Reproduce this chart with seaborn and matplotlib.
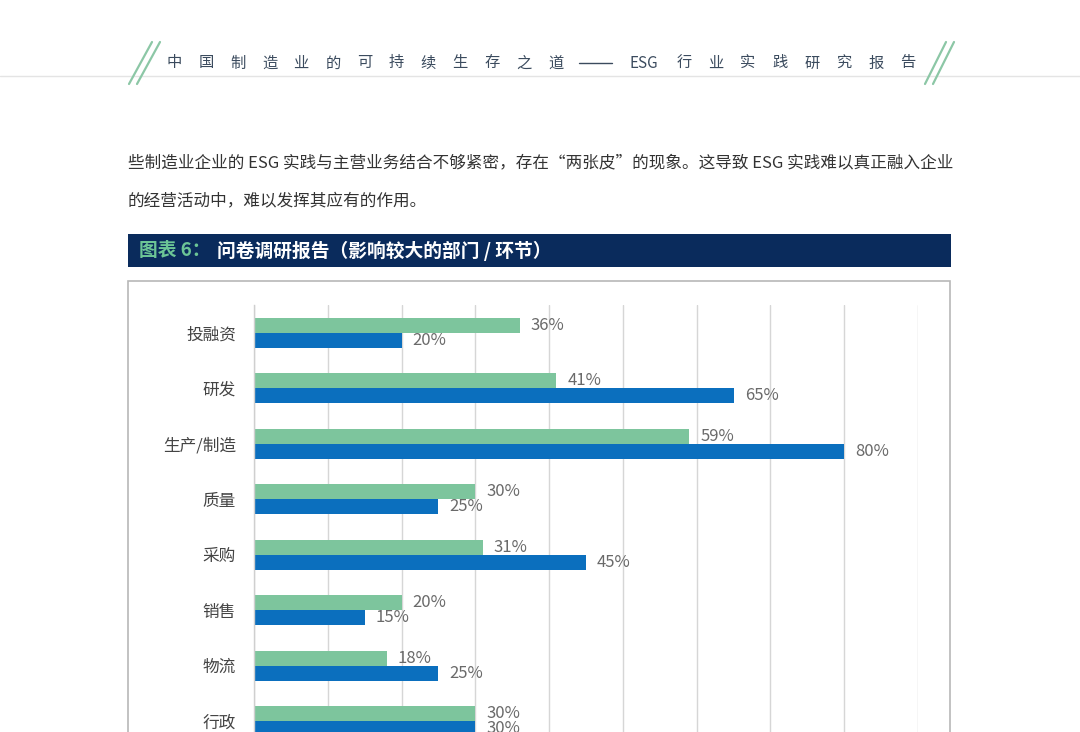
import matplotlib
matplotlib.use("Agg")
import matplotlib.pyplot as plt
from matplotlib.patches import Rectangle
from matplotlib.lines import Line2D
import seaborn as sns
import pandas as pd

# ---------------- data ----------------
categories = ["投融资", "研发", "生产/制造", "质量", "采购", "销售", "物流", "行政"]
series_names = ["系列1", "系列2"]
green_values = [36, 41, 59, 30, 31, 20, 18, 30]
blue_values = [20, 65, 80, 25, 45, 15, 25, 30]
x_ticks = [0, 10, 20, 30, 40, 50, 60, 70, 80, 90]

header_left = list("中国制造业的可持续生存之道")
header_right = list("行业实践研究报告")
para_line1 = "些制造业企业的 ESG 实践与主营业务结合不够紧密，存在“两张皮”的现象。这导致 ESG 实践难以真正融入企业"
para_line2 = "的经营活动中，难以发挥其应有的作用。"
title_prefix = "图表 6："
title_main = "问卷调研报告（影响较大的部门 / 环节）"

# ---------------- style ----------------
sns.set_theme(style="white")
FONTS = ["Noto Sans CJK SC", "DejaVu Sans"]
plt.rcParams["font.family"] = FONTS

W, H = 1080, 732
fig = plt.figure(figsize=(W / 100, H / 100), dpi=100)
fig.patch.set_facecolor("white")


def fx(px):
    return px / W


def fy(py):
    return (H - py) / H


GREEN = "#7dc59d"
BLUE = "#0b6fbe"
NAVY = "#0a2b5c"
SLASH = "#8cc7a6"

# ---------------- header ----------------
fig.add_artist(Line2D([0, 1], [fy(76), fy(76)], color="#e4e4e4", lw=1.0, transform=fig.transFigure))
for (x0, y0, x1, y1) in [(152, 42, 129, 84), (160, 42, 137, 84), (946, 42, 925, 84), (954, 42, 933, 84)]:
    fig.add_artist(Line2D([fx(x0), fx(x1)], [fy(y0), fy(y1)], color=SLASH, lw=1.6,
                          transform=fig.transFigure, solid_capstyle="round"))

hdr_color = "#3b4b5e"
for i, ch in enumerate(header_left):
    fig.text(fx(174 + i * 31.8), fy(63), ch, ha="center", va="center", fontsize=11, color=hdr_color)
fig.add_artist(Line2D([fx(579), fx(612)], [fy(63), fy(63)], color=hdr_color, lw=1.0,
                      transform=fig.transFigure))
fig.text(fx(644), fy(63), "ESG", ha="center", va="center", fontsize=11, color=hdr_color)
for i, ch in enumerate(header_right):
    fig.text(fx(684 + i * 32.0), fy(63), ch, ha="center", va="center", fontsize=11, color=hdr_color)

# ---------------- paragraph ----------------
renderer = fig.canvas.get_renderer()
t1 = fig.text(fx(128), fy(163), para_line1, ha="left", va="center", fontsize=11, color="#333333")
bb = t1.get_window_extent(renderer=renderer)
t1.set_fontsize(11 * (950 - 128) / bb.width)
fig.text(fx(128), fy(201), para_line2, ha="left", va="center", fontsize=t1.get_fontsize(), color="#333333")

# ---------------- title bar ----------------
fig.add_artist(Rectangle((fx(128), fy(267)), fx(951) - fx(128), fy(234) - fy(267),
                         transform=fig.transFigure, facecolor=NAVY, edgecolor="none"))
fig.text(fx(139), fy(251), title_prefix, ha="left", va="center", fontsize=13.5,
         fontweight="bold", color="#6cc596")
fig.text(fx(217), fy(251), title_main, ha="left", va="center", fontsize=13.5,
         fontweight="bold", color="white")

# ---------------- chart frame ----------------
fig.add_artist(Rectangle((fx(128), fy(790)), fx(950) - fx(128), fy(281) - fy(790),
                         transform=fig.transFigure, facecolor="none", edgecolor="#b8b8b8", lw=1.2))

# ---------------- chart ----------------
n = len(categories)
df = pd.DataFrame({
    "部门": categories * 2,
    "系列": [series_names[0]] * n + [series_names[1]] * n,
    "比例": green_values + blue_values,
})

top_px, spacing = 305, 55.5
bottom_px = top_px + spacing * n
ax = fig.add_axes([fx(254), fy(bottom_px), fx(918) - fx(254), fy(top_px) - fy(bottom_px)])
ax.set_facecolor("none")

sns.barplot(data=df, y="部门", x="比例", hue="系列", hue_order=series_names,
            palette=[GREEN, BLUE], orient="h", width=0.54, dodge=True,
            saturation=1, legend=False, ax=ax, errorbar=None, linewidth=0, edgecolor="none")

ax.set_xlim(0, 90)
ax.set_ylim(n - 0.5, -0.5)
ax.set_xticks(x_ticks)
ax.set_xticklabels([])
ax.xaxis.grid(True, color="#d6d6d6", lw=1.0)
ax.set_axisbelow(True)
ax.tick_params(axis="both", length=0)
ax.tick_params(axis="y", labelsize=12, labelcolor="#444444", pad=13)
for s in ["top", "right", "bottom"]:
    ax.spines[s].set_visible(False)
ax.spines["left"].set_color("#cfcfcf")
ax.spines["left"].set_linewidth(1.0)
ax.set_xlabel("")
ax.set_ylabel("")

for cont in ax.containers:
    ax.bar_label(cont, fmt="%d%%", padding=8, fontsize=12, color="#6a6a6a")

fig.savefig("out.png", dpi=100, facecolor="white")
